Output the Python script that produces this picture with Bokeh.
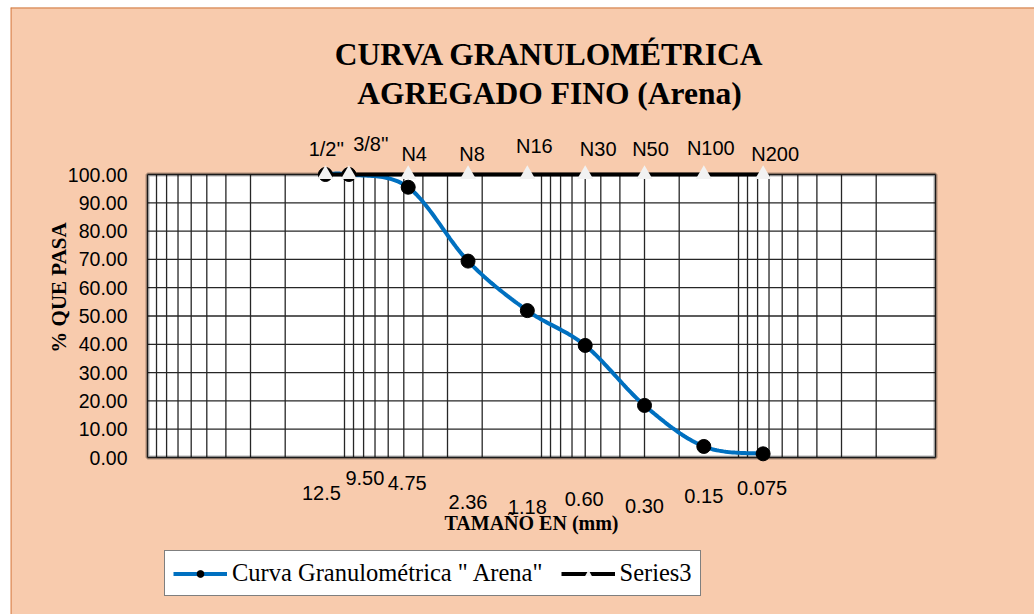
import math

from bokeh.core.properties import value
from bokeh.embed import file_html
from bokeh.models import (BoxAnnotation, ColumnDataSource, Label, LabelSet, Legend,
                          LegendItem, Range1d, Span)
from bokeh.plotting import figure
from bokeh.resources import INLINE

# ---- data -------------------------------------------------------------
sieve_mm = [12.5, 9.5, 4.75, 2.36, 1.18, 0.60, 0.30, 0.15, 0.075]
sieve_names = ["1/2''", "3/8''", "N4", "N8", "N16", "N30", "N50", "N100", "N200"]
size_labels = ["12.5", "9.50", "4.75", "2.36", "1.18", "0.60", "0.30", "0.15", "0.075"]
passing_pct = [100.0, 100.0, 95.5, 69.4, 51.9, 39.6, 18.4, 3.9, 1.3]
series3_pct = [100.0, 100.0, 100.0, 100.0, 100.0, 100.0, 100.0, 100.0, 100.0]
y_ticks = [0, 10, 20, 30, 40, 50, 60, 70, 80, 90, 100]
x_min, x_max = 0.01, 100.0
y_min, y_max = 0.0, 100.0

# label placement (screen pixels relative to each point)
name_dx = [1, 22, 6, 4, 7, 13, 6, 7, 12]
name_dy = [26, 31, 21, 21, 29, 26, 26, 27, 21]
size_dx = [-4, 16, -1, 0, 0, -1, 0, 0, -1]
size_dy = [-35, -20, -25, -44, -49, -41, -48, -38, -30]

PEACH = "#F8CBAD"
BLUE = "#0070C0"
GRID = "#262626"

# canvas geometry: the chart box occupies these pixels inside the canvas
W, H = 1024, 607
BOX_L, BOX_R, BOX_T, BOX_B = 137, 925, 167, 450


def smooth_curve(xs, ys, steps=30):
    """Bezier smoothing (Catmull-Rom tangents) in log-x space, like a smoothed spreadsheet line."""
    pts = [(math.log10(a), b) for a, b in zip(xs, ys)]
    n = len(pts)
    out_x, out_y = [], []
    for i in range(n - 1):
        p0 = pts[i - 1] if i > 0 else pts[i]
        p1, p2 = pts[i], pts[i + 1]
        p3 = pts[i + 2] if i + 2 < n else pts[i + 1]
        c1 = (p1[0] + (p2[0] - p0[0]) / 6, p1[1] + (p2[1] - p0[1]) / 6)
        c2 = (p2[0] - (p3[0] - p1[0]) / 6, p2[1] - (p3[1] - p1[1]) / 6)
        last = steps + 1 if i == n - 2 else steps
        for k in range(last):
            t = k / steps
            u = 1 - t
            bx = u**3 * p1[0] + 3 * u * u * t * c1[0] + 3 * u * t * t * c2[0] + t**3 * p2[0]
            by = u**3 * p1[1] + 3 * u * u * t * c1[1] + 3 * u * t * t * c2[1] + t**3 * p2[1]
            out_x.append(10**bx)
            out_y.append(by)
    return out_x, out_y


# ranges chosen so the frame covers the whole canvas and the 0-100 / 100-0.01 box
# lands at the BOX_* pixels (x axis is log and reversed)
decades = math.log10(x_max) - math.log10(x_min)
px_dec = (BOX_R - BOX_L) / decades
x_left = 10 ** (math.log10(x_max) + BOX_L / px_dec)
x_right = 10 ** (math.log10(x_min) - (W - BOX_R) / px_dec)
px_unit = (BOX_B - BOX_T) / (y_max - y_min)
y_bottom = y_min - (H - BOX_B) / px_unit
y_top = y_max + BOX_T / px_unit

p = figure(
    width=W, height=H,
    x_axis_type="log",
    x_range=Range1d(x_left, x_right),
    y_range=Range1d(y_bottom, y_top),
    x_axis_location=None, y_axis_location=None,
    output_backend="svg",
    toolbar_location=None,
    min_border=0,
)
p.margin = (7, 0, 0, 10)
p.border_fill_color = PEACH
p.background_fill_color = PEACH
p.outline_line_color = None
p.grid.visible = False

# darker edge of the chart area
p.add_layout(Span(location=x_left, dimension="height", line_color="#E39B6E", line_width=3))
p.add_layout(Span(location=y_top, dimension="width", line_color="#D07A40", line_width=2))

# white chart area
p.add_layout(BoxAnnotation(left=x_max, right=x_min, bottom=y_min, top=y_max,
                           fill_color="white", fill_alpha=1, line_color=None,
                           level="image"))

# log grid (1..9 x 10^k) and the 10 % horizontal grid
grid_ticks = [m * 10.0**k for k in range(-2, 2) for m in range(1, 10)] + [100.0]
p.segment(x0=grid_ticks, y0=[y_min] * len(grid_ticks), x1=grid_ticks,
          y1=[y_max] * len(grid_ticks), line_color=GRID, line_width=1.3, level="underlay")
p.segment(x0=[x_max] * len(y_ticks), y0=y_ticks, x1=[x_min] * len(y_ticks), y1=y_ticks,
          line_color=GRID, line_width=1.3, level="underlay")

# heavy frame round the chart area
p.add_layout(BoxAnnotation(left=x_max, right=x_min, bottom=y_min, top=y_max,
                           fill_alpha=0, line_color="black", line_width=4,
                           level="underlay"))

# y tick labels
ytick_src = ColumnDataSource(dict(x=[x_max] * len(y_ticks), y=y_ticks,
                                  t=["%.2f" % v for v in y_ticks]))
p.add_layout(LabelSet(x="x", y="y", text="t", x_offset=-20, source=ytick_src,
                      text_align="right", text_baseline="middle",
                      text_font=value("Liberation Sans"), text_font_size="19.5px",
                      text_color="black"))

# grading curve
sx, sy = smooth_curve(sieve_mm, passing_pct)
curve_line = p.line(sx, sy, line_color=BLUE, line_width=4)
curve_pts = p.scatter(sieve_mm, passing_pct, size=14, color="black")

# sieve series along the top
s3_line = p.line(sieve_mm, series3_pct, line_color="black", line_width=4)
s3_pts = p.scatter(sieve_mm, series3_pct, marker="triangle", size=16,
                   fill_color="#F2F2F2", line_color=None)

name_src = ColumnDataSource(dict(x=sieve_mm, y=series3_pct, t=sieve_names,
                                 dx=name_dx, dy=name_dy))
p.add_layout(LabelSet(x="x", y="y", text="t", x_offset="dx", y_offset="dy",
                      source=name_src, text_align="center", text_baseline="middle",
                      text_font=value("Liberation Sans"), text_font_size="20px",
                      text_color="black"))

size_src = ColumnDataSource(dict(x=sieve_mm, y=[y_min] * len(sieve_mm), t=size_labels,
                                 dx=size_dx, dy=size_dy))
p.add_layout(LabelSet(x="x", y="y", text="t", x_offset="dx", y_offset="dy",
                      source=size_src, text_align="center", text_baseline="middle",
                      text_font=value("Liberation Sans"), text_font_size="20px",
                      text_color="black"))

# titles and axis names
for txt, ty in [("CURVA GRANULOMÉTRICA", 47), ("AGREGADO FINO (Arena)", 86)]:
    p.add_layout(Label(x=539, y=ty, x_units="canvas", y_units="canvas", text=txt,
                       text_align="center", text_baseline="middle",
                       text_font="Liberation Serif", text_font_style="bold",
                       text_font_size="31.5px", text_color="black"))

p.add_layout(Label(x=48, y=280, x_units="canvas", y_units="canvas", text="% QUE PASA",
                   angle=math.pi / 2, text_align="center", text_baseline="middle",
                   text_font="Liberation Serif", text_font_style="bold",
                   text_font_size="21px", text_color="black"))
p.add_layout(Label(x=521, y=515, x_units="canvas", y_units="canvas",
                   text="TAMAÑO EN (mm)", text_align="center", text_baseline="middle",
                   text_font="Liberation Serif", text_font_style="bold",
                   text_font_size="20px", text_color="black"))

legend = Legend(
    items=[LegendItem(label='Curva Granulométrica " Arena"', renderers=[curve_line, curve_pts]),
           LegendItem(label="Series3", renderers=[s3_line, s3_pts])],
    orientation="horizontal",
    location=(154, 18),
    label_text_font="Liberation Serif",
    label_text_font_size="24.5px",
    label_text_color="black",
    glyph_width=54, glyph_height=17, label_height=17,
    label_standoff=5, spacing=18, padding=8, margin=0,
    border_line_color="black", border_line_width=1,
    background_fill_color="white", background_fill_alpha=1,
)
p.add_layout(legend)

open("out.html", "w").write(file_html(p, INLINE))
